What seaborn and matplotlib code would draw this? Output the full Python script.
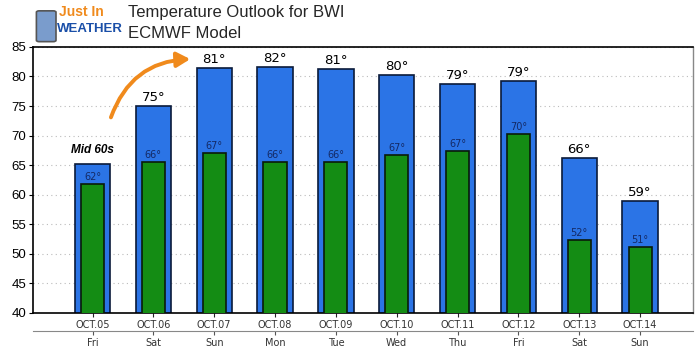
import matplotlib
matplotlib.use("Agg")
import matplotlib.pyplot as plt
from matplotlib.patches import FancyBboxPatch
import seaborn as sns

dates = ['OCT.05', 'OCT.06', 'OCT.07', 'OCT.08', 'OCT.09',
         'OCT.10', 'OCT.11', 'OCT.12', 'OCT.13', 'OCT.14']
days = ['Fri', 'Sat', 'Sun', 'Mon', 'Tue', 'Wed', 'Thu', 'Fri', 'Sat', 'Sun']
highs = [65.2, 75.0, 81.4, 81.6, 81.3, 80.3, 78.7, 79.2, 66.2, 58.9]
lows = [61.8, 65.5, 67.1, 65.5, 65.5, 66.7, 67.4, 70.3, 52.4, 51.2]
high_labels = ['', '75°', '81°', '82°', '81°', '80°', '79°', '79°', '66°', '59°']
low_labels = ['62°', '66°', '67°', '66°', '66°', '67°', '67°', '70°', '52°', '51°']

sns.set_style('white')
plt.rcParams['font.family'] = ['Liberation Sans', 'DejaVu Sans']

fig = plt.figure(figsize=(7, 3.5), dpi=100)
ax = fig.add_axes([0.047, 0.106, 0.943, 0.76])

sns.barplot(x=dates, y=highs, color='#2b74e6', width=0.58, edgecolor='#0a1a3a',
            linewidth=1.2, saturation=1, ax=ax, zorder=2)
sns.barplot(x=dates, y=lows, color='#148c14', width=0.38, edgecolor='#0a1a0a',
            linewidth=1.2, saturation=1, ax=ax, zorder=3)

for i, (h, l) in enumerate(zip(highs, lows)):
    if high_labels[i]:
        ax.text(i, h + 0.3, high_labels[i], ha='center', va='bottom', fontsize=9.5,
                family='DejaVu Sans', color='black', zorder=5)
    ax.text(i, l + 0.3, low_labels[i], ha='center', va='bottom', fontsize=7,
            family='DejaVu Sans', color='#142a66', zorder=5)

ax.text(0, 67.6, 'Mid 60s', ha='center', va='center', fontsize=8.5,
        fontweight='bold', fontstyle='italic', color='black', zorder=5)

ax.set_ylim(40, 85)
ax.set_xlim(-0.98, 9.87)
ax.set_yticks(range(40, 90, 5))
ax.yaxis.grid(True, linestyle=(0, (1, 3)), color='#bbbbbb', linewidth=0.8)
ax.set_axisbelow(True)
ax.tick_params(axis='y', labelsize=9.5, length=3, left=True, pad=2, colors='black')
ax.tick_params(axis='x', labelsize=7, length=3, bottom=True, pad=2, labelcolor='#333333')
for lab in ax.get_xticklabels():
    lab.set_family('DejaVu Sans')
for side in ['left', 'bottom', 'top']:
    ax.spines[side].set_color('black')
    ax.spines[side].set_linewidth(1.2)
ax.spines['right'].set_color('#888888')
ax.spines['right'].set_linewidth(1)
ax.set_xlabel('')
ax.set_ylabel('')

sec = ax.secondary_xaxis(-0.068)
sec.set_xticks(range(len(days)))
sec.set_xticklabels(days, fontsize=7, color='#333333', family='DejaVu Sans')
sec.spines['bottom'].set_color('#888888')
sec.tick_params(length=3, pad=2, color='#555555')

# title and logo
fig.text(0.183, 0.985, 'Temperature Outlook for BWI', fontsize=12, va='top', ha='left')
fig.text(0.183, 0.925, 'ECMWF Model', fontsize=12, va='top', ha='left')
fig.patches.append(FancyBboxPatch((0.056, 0.885), 0.02, 0.08, boxstyle='round,pad=0.004',
                                  transform=fig.transFigure, facecolor='#7a9ccc',
                                  edgecolor='#555555', linewidth=1.2))
fig.text(0.084, 0.985, 'Just In', fontsize=10, fontweight='bold', color='#f08a1c',
         va='top', ha='left')
fig.text(0.081, 0.935, 'WEATHER', fontsize=9.5, fontweight='bold', color='#1a4fa8',
         va='top', ha='left')

# orange arrow
ax.annotate('', xy=(193, 291), xytext=(110, 230), xycoords='figure pixels',
            textcoords='figure pixels',
            arrowprops=dict(arrowstyle='-|>,head_width=0.45,head_length=0.8',
                            color='#f08a1c', lw=2.8,
                            connectionstyle='arc3,rad=-0.35'))

plt.savefig('out.png', dpi=100)
